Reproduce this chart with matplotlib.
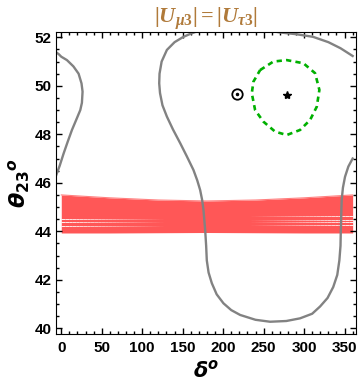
import matplotlib
matplotlib.use('Agg')
import matplotlib.pyplot as plt
import numpy as np
from matplotlib.ticker import MultipleLocator
from matplotlib.collections import LineCollection

plt.rcParams['font.family'] = ['Liberation Sans', 'DejaVu Sans']
plt.rcParams['mathtext.bfit'] = 'Liberation Serif:italic:bold'
plt.rcParams['mathtext.bf'] = 'Liberation Serif:bold'
plt.rcParams['mathtext.rm'] = 'Liberation Serif:bold'
plt.rcParams['mathtext.it'] = 'Liberation Serif:italic:bold'

# gray contour, left piece (delta, theta23)
left_d = [-7, -3, 0, 7, 15, 21.4, 25, 26.3, 25.5, 23.5, 18.5, 13.2, 8, 2.8, -2, -7]
left_t = [51.4, 51.3, 51.2, 51.06, 50.8, 50.5, 50.1, 49.76, 49.3, 49.0, 48.6, 48.18, 47.7, 47.2, 46.7, 46.25]

# gray contour, middle piece going down into the U
mid_d = [172, 160, 151, 140, 130.5, 124, 121.4, 121, 122, 125, 130.5, 138, 147, 155,
         163.3, 168, 171.6, 174, 175.7, 177.8, 179, 179.8, 182, 186, 192, 200.4, 210,
         221, 240, 258, 278, 295, 310, 319.8, 329, 336, 341, 343.6, 345, 345.3, 345.8,
         346.5, 348, 350.6, 354.7, 360]
mid_t = [52.3, 52.15, 52.02, 51.8, 51.48, 51.0, 50.5, 50.1, 49.7, 49.2, 48.73, 48.2,
         47.63, 47.1, 46.53, 46.1, 45.7, 45.3, 44.88, 44.05, 43.4, 42.8, 42.3, 41.86,
         41.4, 41.03, 40.75, 40.55, 40.35, 40.27, 40.3, 40.41, 40.6, 40.9, 41.25, 41.7,
         42.2, 42.8, 43.4, 43.9, 44.6, 45.3, 45.8, 46.25, 46.67, 47.0]

# gray contour, top right arc
arc_d = [254, 270, 290, 311, 330, 345, 360]
arc_t = [52.3, 52.2, 52.13, 52.02, 51.8, 51.55, 51.23]

# green dashed contour
green_d = [245.7, 262.1, 278.6, 299.2, 313.6, 318.9, 315.7, 307.4, 295.1, 278.6,
           264.2, 249.8, 239.5, 235.4, 237.4, 245.7]
green_t = [50.65, 51.0, 51.06, 50.93, 50.52, 49.83, 49.14, 48.59, 48.18, 47.97,
           48.11, 48.52, 49.0, 49.69, 50.17, 50.65]

# red band edges
band_d = [0, 60, 120, 180, 240, 300, 360]
band_top = [45.5, 45.38, 45.29, 45.25, 45.29, 45.38, 45.5]
band_bottom = [43.93, 43.93, 43.94, 43.95, 43.94, 43.93, 43.93]
gaps_left = [44.5, 44.37, 44.23]
gaps_right = [44.63, 44.47, 44.37, 44.26]

star = (279.4, 49.62)
bestfit = (217.7, 49.65)

fig = plt.figure(figsize=(3.6, 3.82), dpi=100)
ax = fig.add_axes([0.1556, 0.1257, 0.8325, 0.7906])

ax.fill_between(band_d, band_bottom, band_top, color='#ff5757', lw=0)
ax.plot(band_d, band_top, color='#ff8080', lw=0.8)

# faint white gaps between band lines, fading towards the middle
def fading(x0, x1, y, fade_right):
    xs = np.linspace(x0, x1, 30)
    segs = [[(xs[i], y), (xs[i + 1], y)] for i in range(len(xs) - 1)]
    a = np.linspace(0.9, 0.0, len(segs))
    if not fade_right:
        a = a[::-1]
    cols = [(1, 1, 1, v) for v in a]
    ax.add_collection(LineCollection(segs, colors=cols, linewidths=0.7))

for g in gaps_left:
    fading(0, 130, g, True)
for g in gaps_right:
    fading(230, 360, g, False)

gray = '#828282'
ax.plot(left_d, left_t, color=gray, lw=1.7)
ax.plot(mid_d, mid_t, color=gray, lw=1.7)
ax.plot(arc_d, arc_t, color=gray, lw=1.7)

ax.plot(green_d, green_t, color='#00b000', lw=1.9, dashes=(2, 1.6))
ax.plot(*star, marker='*', color='black', ms=6)
ax.plot(*bestfit, marker='o', mfc='none', mec='black', ms=7.5, mew=1.3)
ax.plot(*bestfit, marker='.', color='black', ms=3)

ax.set_xlim(-6.5, 363.8)
ax.set_ylim(39.765, 52.22)
ax.xaxis.set_major_locator(MultipleLocator(50))
ax.xaxis.set_minor_locator(MultipleLocator(10))
ax.yaxis.set_major_locator(MultipleLocator(2))
ax.yaxis.set_minor_locator(MultipleLocator(0.5))
ax.tick_params(which='both', direction='in', top=True, right=True, labelsize=11, width=1)
ax.tick_params(which='major', length=4.5)
ax.tick_params(which='minor', length=2.5)
ax.tick_params(axis='x', pad=5)
ax.tick_params(axis='y', pad=3)
for lab in ax.get_xticklabels() + ax.get_yticklabels():
    lab.set_fontweight('bold')

ax.set_xlabel(r'$\mathbfit{\delta}^{\mathbfit{o}}$', fontsize=15, math_fontfamily='dejavusans', labelpad=3)
ax.set_ylabel(r'${\mathbfit{\theta}_{\mathbf{23}}}^{\mathbfit{o}}$', fontsize=16, math_fontfamily='dejavusans', labelpad=2)
ax.set_title(r'$\mathbf{|}\mathbfit{U}_{\mathbfit{\mu} \mathbf{3}}\mathbf{|=|}\mathbfit{U}_{\mathbfit{\tau} \mathbf{3}}\mathbf{|}$',
             fontsize=16, color='#b07a3a', math_fontfamily='custom', pad=5)

fig.savefig('out.png', dpi=100)
